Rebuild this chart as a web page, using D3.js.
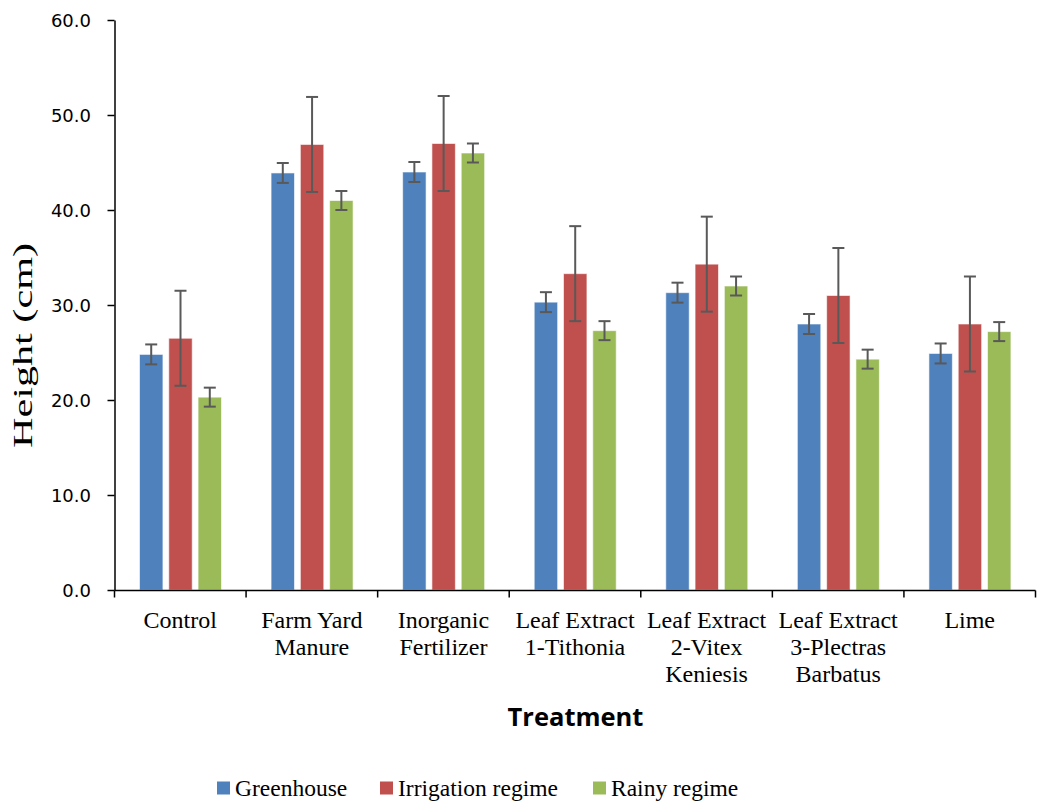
<!DOCTYPE html>
<html><head><meta charset="utf-8">
<script src="https://cdn.jsdelivr.net/npm/d3@7"></script>
<style>body{margin:0;background:#fff}svg{display:block}</style>
</head><body>
<script>
const categories = [["Control"],["Farm Yard","Manure"],["Inorganic","Fertilizer"],["Leaf Extract","1-Tithonia"],["Leaf Extract","2-Vitex","Keniesis"],["Leaf Extract","3-Plectras","Barbatus"],["Lime"]];
const seriesNames = ["Greenhouse","Irrigation regime","Rainy regime"];
const seriesColors = ["#4F81BD","#C0504D","#9BBB59"];
const greenhouse = [24.8, 43.9, 44.0, 30.3, 31.3, 28.0, 24.9];
const irrigation = [26.5, 46.9, 47.0, 33.3, 34.3, 31.0, 28.0];
const rainy = [20.3, 41.0, 46.0, 27.3, 32.0, 24.3, 27.2];
const greenhouseErr = [1.05, 1.05, 1.05, 1.05, 1.05, 1.05, 1.05];
const irrigationErr = [5, 5, 5, 5, 5, 5, 5];
const rainyErr = [1, 1, 1, 1, 1, 1, 1];
const yTicks = [0,10,20,30,40,50,60];

const values = [greenhouse, irrigation, rainy];
const errs = [greenhouseErr, irrigationErr, rainyErr];

const W=1045,H=802;
const svg=d3.select("body").append("svg").attr("width",W).attr("height",H);
const x0=d3.scaleBand().domain(d3.range(categories.length)).range([114.5,1035.5]).paddingInner(0).paddingOuter(0);
const x1=d3.scaleBand().domain(d3.range(3)).range([25,107]).paddingInner(0.2);
const y=d3.scaleLinear().domain([0,60]).range([590,20]);

// bars
const g=svg.append("g");
categories.forEach((c,i)=>{
  for(let s=0;s<3;s++){
    const bx=x0(i)+x1(s), bw=x1.bandwidth();
    g.append("rect").attr("x",bx).attr("y",y(values[s][i])).attr("width",bw)
      .attr("height",y(0)-y(values[s][i])).attr("fill",seriesColors[s])
      .attr("stroke","rgba(255,255,255,0.6)").attr("stroke-width",1);
  }
});
// error bars
categories.forEach((c,i)=>{
  for(let s=0;s<3;s++){
    const cx=x0(i)+x1(s)+x1.bandwidth()/2;
    const v=values[s][i], e=errs[s][i];
    const eg=g.append("g").attr("stroke","#595959").attr("stroke-width",2);
    eg.append("line").attr("x1",cx).attr("x2",cx).attr("y1",y(v+e)).attr("y2",y(v-e));
    eg.append("line").attr("x1",cx-6).attr("x2",cx+6).attr("y1",y(v+e)).attr("y2",y(v+e));
    eg.append("line").attr("x1",cx-6).attr("x2",cx+6).attr("y1",y(v-e)).attr("y2",y(v-e));
  }
});

// y axis
const ya=svg.append("g").attr("transform","translate(114.5,0)")
  .call(d3.axisLeft(y).tickValues(yTicks).tickFormat(d3.format(".1f")).tickSize(7).tickSizeOuter(0));
ya.select(".domain").attr("stroke","#000").attr("stroke-width",1.5);
ya.selectAll(".tick line").attr("stroke","#000").attr("stroke-width",1.5);
ya.selectAll(".tick text").attr("font-family","'DejaVu Sans', sans-serif").attr("font-size",18).attr("fill","#000").attr("x",-23.5).attr("dy","0.38em");

// x axis
const xa=svg.append("g").attr("transform","translate(0,590.5)");
xa.append("line").attr("x1",114.5).attr("x2",1035.5).attr("stroke","#000").attr("stroke-width",1.5);
d3.range(categories.length+1).forEach(i=>{
  const tx = i<categories.length ? x0(i) : x0(categories.length-1)+x0.bandwidth();
  xa.append("line").attr("x1",tx).attr("x2",tx).attr("y1",0).attr("y2",7).attr("stroke","#000").attr("stroke-width",1.5);
});
categories.forEach((c,i)=>{
  const t=xa.append("text").attr("text-anchor","middle").attr("font-family","'Liberation Serif', serif").attr("font-size",24).attr("fill","#000");
  c.forEach((line,k)=>{
    t.append("tspan").attr("x",x0(i)+x0.bandwidth()/2).attr("y",37.5+k*27).text(line);
  });
});

// axis titles
svg.append("text").attr("transform","translate(32,345.5) rotate(-90)").attr("text-anchor","middle")
  .attr("font-family","'Liberation Serif', serif").attr("font-size",27)
  .attr("textLength",205).attr("lengthAdjust","spacingAndGlyphs").text("Height (cm)");
svg.append("text").attr("x",575.5).attr("y",726).attr("text-anchor","middle")
  .attr("font-family","'Open Sans', 'Liberation Sans', sans-serif").attr("font-weight","bold").attr("font-size",25.5).text("Treatment");

// legend
const legX=[217,380,593];
seriesNames.forEach((n,s)=>{
  svg.append("rect").attr("x",legX[s]).attr("y",781.5).attr("width",13).attr("height",13).attr("fill",seriesColors[s]);
  svg.append("text").attr("x",legX[s]+18).attr("y",796).attr("font-family","'Liberation Serif', serif").attr("font-size",23.5).text(n);
});
</script>
</body></html>
